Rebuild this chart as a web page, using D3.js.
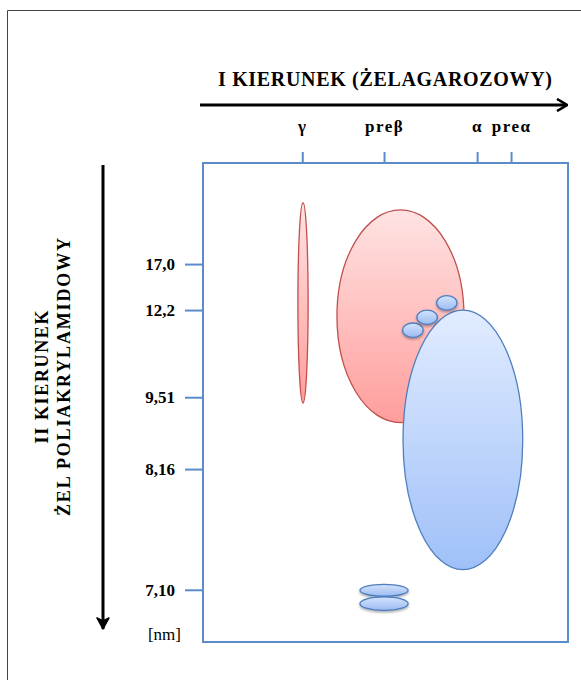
<!DOCTYPE html>
<html>
<head>
    <meta charset="utf-8">
    <title>Elektroforeza dwukierunkowa lipoprotein</title>
    <script src="https://d3js.org/d3.v7.min.js"></script>
    <style>
        body { margin: 0; background: #fff; }
        text { font-family: "Liberation Serif", "DejaVu Serif", serif; }
    </style>
</head>
<body>
    <div id="chart"></div>

    <script>
        // first direction (agarose): band names and their position across the gel, % of width
        const bandLabels = ["γ", "preβ", "α", "preα"];
        const bandPos = [27.2, 49.6, 75.1, 84.4];

        // second direction (polyacrylamide): particle size [nm] and position down the gel, % of height
        const sizeLabels = ["17,0", "12,2", "9,51", "8,16", "7,10"];
        const sizePos = [21.1, 30.7, 48.9, 63.9, 89.1];

        // spots: centre and half-axes in gel % units
        const spotNames = ["gamma", "prebeta", "alpha", "pa1", "pa2", "pa3", "s1", "s2"];
        const spotCx = [27.4, 54.1, 71.2, 57.5, 61.4, 66.8, 49.6, 49.6];
        const spotCy = [29.2, 32.0, 57.8, 34.9, 32.2, 29.2, 89.2, 92.0];
        const spotRx = [1.4, 17.4, 16.4, 2.8, 2.8, 2.8, 6.6, 6.6];
        const spotRy = [20.9, 22.2, 27.1, 1.5, 1.5, 1.5, 1.25, 1.4];
        const spotKind = ["red", "red", "blue", "blueS", "blueS", "blueS", "blueS", "blueS"];

        const W = 581, H = 680;
        const box = { left: 203, right: 568, top: 163, bottom: 642 };

        const svg = d3.select("#chart").append("svg")
            .attr("width", W)
            .attr("height", H);

        const defs = svg.append("defs");
        const grads = {
            red: ["#ffe3e3", "#ff9e9c"],
            blue: ["#e1ecff", "#9fc0f8"],
            blueS: ["#d3e3fd", "#9cbcf2"]
        };
        Object.keys(grads).forEach(k => {
            const g = defs.append("linearGradient").attr("id", "g-" + k)
                .attr("x1", 0).attr("y1", 0).attr("x2", 0).attr("y2", 1);
            g.append("stop").attr("offset", "0%").attr("stop-color", grads[k][0]);
            g.append("stop").attr("offset", "100%").attr("stop-color", grads[k][1]);
        });
        const sh = defs.append("filter").attr("id", "shadow")
            .attr("x", "-30%").attr("y", "-30%").attr("width", "160%").attr("height", "180%");
        sh.append("feDropShadow").attr("dx", 0).attr("dy", 1.5).attr("stdDeviation", 1.2)
            .attr("flood-color", "#000").attr("flood-opacity", 0.35);

        defs.append("marker").attr("id", "headR")
            .attr("viewBox", "0 0 12 14").attr("refX", 11).attr("refY", 7)
            .attr("markerUnits", "userSpaceOnUse")
            .attr("markerWidth", 12).attr("markerHeight", 14).attr("orient", "auto")
            .append("path").attr("d", "M1,1 L11,7 L1,13")
            .attr("fill", "none").attr("stroke", "#000").attr("stroke-width", 2.6);
        defs.append("marker").attr("id", "headD")
            .attr("viewBox", "0 0 14 14").attr("refX", 12).attr("refY", 7)
            .attr("markerUnits", "userSpaceOnUse")
            .attr("markerWidth", 14).attr("markerHeight", 14).attr("orient", "auto")
            .append("path").attr("d", "M1,1 L12,7 L1,13 L4,7 Z")
            .attr("fill", "#000").attr("stroke", "#000").attr("stroke-width", 1.5)
            .attr("stroke-linejoin", "round");

        // outer frame (only top and left edges are visible)
        svg.append("path")
            .attr("d", `M7.5,${H} L7.5,10.5 L${W},10.5`)
            .attr("fill", "none").attr("stroke", "#444").attr("stroke-width", 1);

        const x = d3.scaleLinear().domain([0, 100]).range([box.left, box.right]);
        const y = d3.scaleLinear().domain([0, 100]).range([box.top, box.bottom]);

        // direction arrows
        svg.append("line")
            .attr("x1", 200).attr("y1", 105).attr("x2", 567).attr("y2", 105)
            .attr("stroke", "#000").attr("stroke-width", 3)
            .attr("marker-end", "url(#headR)");
        svg.append("line")
            .attr("x1", 103).attr("y1", 165).attr("x2", 103).attr("y2", 629)
            .attr("stroke", "#000").attr("stroke-width", 3)
            .attr("marker-end", "url(#headD)");

        svg.append("text")
            .attr("x", 218).attr("y", 86)
            .attr("textLength", 334).attr("lengthAdjust", "spacing")
            .attr("font-size", 20).attr("font-weight", "bold")
            .text("I KIERUNEK (ŻELAGAROZOWY)");

        const yt = svg.append("text")
            .attr("transform", "translate(48,377) rotate(-90)")
            .attr("text-anchor", "middle")
            .attr("font-size", 18).attr("font-weight", "bold");
        yt.append("tspan").attr("x", 0).attr("y", 0)
            .attr("textLength", 133).attr("lengthAdjust", "spacing")
            .text("II KIERUNEK");
        yt.append("tspan").attr("x", 0).attr("y", 22)
            .attr("textLength", 278).attr("lengthAdjust", "spacing")
            .text("ŻEL POLIAKRYLAMIDOWY");

        // axes
        const xAxis = svg.append("g")
            .attr("transform", `translate(0,${box.top})`)
            .call(d3.axisTop(x).tickValues(bandPos)
                .tickFormat((d, i) => bandLabels[i])
                .tickSize(11).tickPadding(17));
        const yAxis = svg.append("g")
            .attr("transform", `translate(${box.left},0)`)
            .call(d3.axisLeft(y).tickValues(sizePos)
                .tickFormat((d, i) => sizeLabels[i])
                .tickSize(18).tickPadding(10));
        [xAxis, yAxis].forEach(a => {
            a.select(".domain").remove();
            a.selectAll(".tick line").attr("stroke", "#5b8cc9").attr("stroke-width", 2);
            a.selectAll(".tick text")
                .attr("fill", "#000").attr("font-size", 17).attr("font-weight", "bold")
                .attr("font-family", "Liberation Serif, serif");
        });
        xAxis.selectAll(".tick text").attr("dy", "-0.15em").attr("letter-spacing", 1.5);

        svg.append("text")
            .attr("x", 181).attr("y", 640)
            .attr("text-anchor", "end").attr("font-size", 17)
            .text("[nm]");

        // gel outline
        svg.append("rect")
            .attr("x", box.left).attr("y", box.top)
            .attr("width", box.right - box.left).attr("height", box.bottom - box.top)
            .attr("fill", "none").attr("stroke", "#5b8cc9").attr("stroke-width", 2);

        // spots
        const order = [0, 1, 2, 3, 4, 5, 6, 7];
        svg.append("g").selectAll("ellipse")
            .data(order)
            .join("ellipse")
            .attr("cx", i => x(spotCx[i]))
            .attr("cy", i => y(spotCy[i]))
            .attr("rx", i => x(spotRx[i]) - x(0))
            .attr("ry", i => y(spotRy[i]) - y(0))
            .attr("fill", i => `url(#g-${spotKind[i]})`)
            .attr("stroke", i => spotKind[i] === "red" ? "#c0504d" : "#4f7fbf")
            .attr("stroke-width", 1.3)
            .attr("filter", i => spotKind[i] === "blueS" ? "url(#shadow)" : null)
            .attr("class", i => spotNames[i]);
    </script>
</body>
</html>
